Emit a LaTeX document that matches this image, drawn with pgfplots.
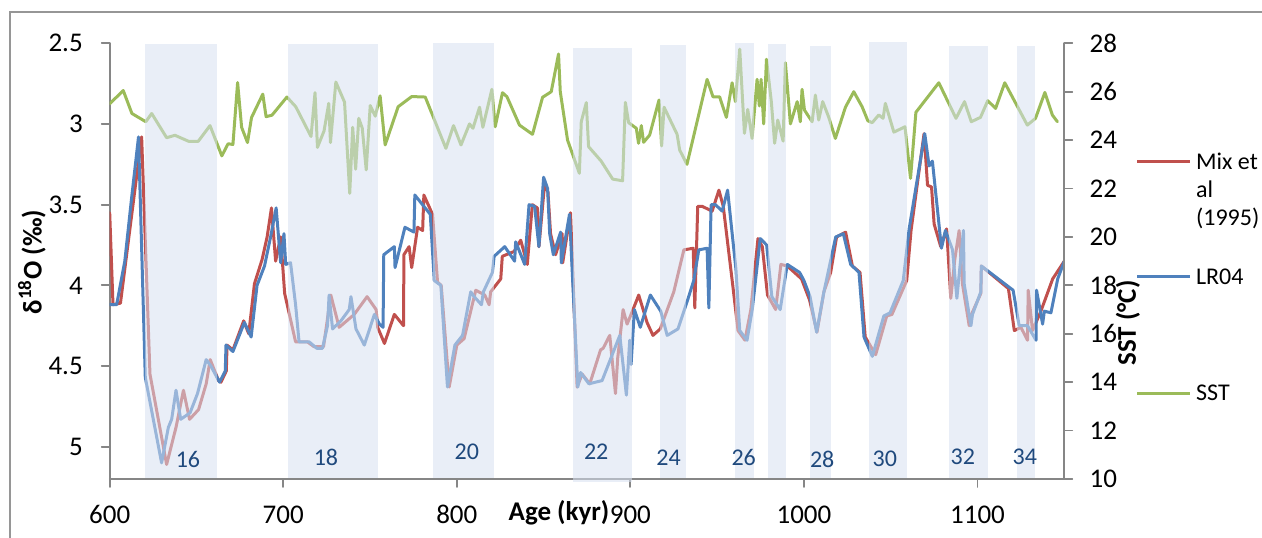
\documentclass[border=0pt]{standalone}
\usepackage{fontspec}
\setmainfont{Carlito}
\usepackage{pgfplots}
\pgfplotsset{compat=1.18}
\definecolor{mixred}{RGB}{192,80,77}
\definecolor{lrblue}{RGB}{79,129,189}
\definecolor{sstgreen}{RGB}{155,187,89}
\definecolor{bandc}{RGB}{215,224,240}
\definecolor{axgray}{RGB}{134,134,134}
\definecolor{framegray}{RGB}{150,150,150}
\definecolor{labblue}{RGB}{31,73,125}
\newcommand{\tickfont}{\fontsize{13.5}{16}\selectfont}
\newcommand{\legfont}{\fontsize{12}{14.5}\selectfont}
\begin{document}
\legfont
\begin{tikzpicture}[font=\legfont]
\path[use as bounding box] (-54.85pt,-29pt) rectangle (576.15pt,239.5pt);
\draw[framegray, line width=0.7pt] (-49.85pt,233.5pt) rectangle (590pt,-40pt);
\pgfplotsset{base/.style={scale only axis, width=477.3pt, height=217.85pt,
  at={(0pt,0pt)}, anchor=south west, xmin=600, xmax=1150,
  axis line style={axgray, line width=0.9pt}, tick style={axgray, line width=0.9pt},
  major tick length=4pt, tick align=outside,
  /pgf/number format/assume math mode=true,
  every tick label/.append style={font=\tickfont}}}
% delta18O axis
\begin{axis}[base, ymin=2.5, ymax=5.2, y dir=reverse,
  axis x line*=bottom, axis y line*=left, xtick pos=bottom, ytick pos=left,
  xtick={600,700,...,1100}, ytick={2.5,3,3.5,4,4.5,5},
  x tick label style={/pgf/number format/1000 sep={}, anchor=base, inner sep=0pt, yshift=-18pt},
  y tick label style={/pgf/number format/fixed, anchor=east, inner sep=0pt, xshift=-9.3pt},
  xlabel={\tickfont\bfseries Age (kyr)},
  xlabel style={at={(axis description cs:0.4707,0)}, anchor=base, inner sep=0pt, yshift=-20.5pt},
  ylabel={\tickfont\bfseries δ\textsuperscript{18}O (‰)},
  ylabel style={at={(axis description cs:-0.0814,0.498)}, anchor=center, inner sep=0pt},
  line join=round, line cap=round]
\addplot[mixred, line width=1.5pt] coordinates {
(600,3.55) (601.9,4.12) (606.2,4.11) (618.4,3.08) (623.2,4.55) (632.8,5.11) (638.2,4.88)
(642.5,4.65) (646.0,4.83) (651.2,4.77) (655.6,4.61) (657.9,4.46) (662.7,4.59) (664.1,4.60)
(667.2,4.53) (667.6,4.37) (671.0,4.40) (677.2,4.22) (680.1,4.30) (683.4,3.99) (687.8,3.84)
(690.7,3.70) (693.2,3.52) (695.6,3.85) (698.5,3.70) (700.8,4.05) (707.1,4.35) (713.9,4.35)
(717.7,4.38) (723.2,4.38) (727.4,4.06) (732.2,4.26) (740.9,4.18) (748.3,4.07) (753.5,4.15)
(754.4,4.26) (758.3,4.36) (764.0,4.18) (769.3,4.25) (769.5,3.81) (772.5,3.76) (774.0,3.89)
(777.4,3.64) (780.3,3.66) (781.0,3.44) (786.0,3.56) (788.9,3.98) (791.0,4.00) (795.6,4.63)
(800.0,4.37) (804.2,4.33) (810.9,4.03) (816.1,4.06) (818.6,4.12) (819.5,4.04) (825.3,3.96)
(826.2,3.82) (833.0,3.79) (836.8,3.72) (840.6,3.87) (843.5,3.50) (846.4,3.52) (847.3,3.76)
(850.5,3.38) (852.5,3.42) (854.0,3.68) (856.9,3.81) (860.7,3.68) (861.0,3.86) (865.5,3.55)
(869.3,4.63) (872.2,4.55) (876.6,4.61) (882.8,4.40) (884.3,4.39) (888.1,4.31) (891.4,4.67)
(892.7,4.45) (895.8,4.15) (898.1,4.24) (900.4,4.18) (904.8,4.06) (909.6,4.23) (913.0,4.31)
(917.2,4.27) (925.0,4.04) (930.8,3.78) (936.2,3.77) (937.1,4.14) (938.8,3.51) (941.3,3.51)
(947.1,3.54) (951.0,3.41) (953.5,3.51) (959.2,4.02) (962.0,4.28) (966.0,4.34) (969.4,4.15)
(973.5,3.71) (976.0,3.76) (979.0,4.06) (983.7,4.15) (986.7,3.87) (990.4,3.88) (998.6,3.96)
(1003.2,4.09) (1007.5,4.29) (1011.5,4.04) (1015.4,3.92) (1018.8,3.70) (1024.0,3.67)
(1027.9,3.88) (1032.3,3.92) (1035.3,4.32) (1041.3,4.43) (1047.7,4.19) (1050.7,4.18)
(1059.2,3.97) (1061.7,3.66) (1069.2,3.06) (1071.2,3.38) (1073.5,3.39) (1075.0,3.62)
(1078.8,3.76) (1082.2,3.65) (1084.6,4.08) (1086.9,3.84) (1089.4,3.66) (1091.3,3.99)
(1095.2,4.25) (1096.5,4.18) (1101.9,4.05) (1102.2,3.88) (1117.8,4.02) (1121.2,4.28)
(1125.0,4.26) (1128.8,4.34) (1129.2,4.03) (1131.7,4.28) (1136.5,4.16) (1143.3,3.96) (1150,3.85)};
\addplot[lrblue, line width=1.5pt] coordinates {
(600,4.12) (604.0,4.12) (608.7,3.85) (612.5,3.47) (616.6,3.08) (620.5,4.57) (629.9,5.10)
(633.8,4.88) (635.7,4.83) (638.2,4.65) (640.9,4.83) (646.3,4.79) (650.6,4.67) (655.6,4.46)
(658.3,4.50) (663.3,4.60) (666.6,4.53) (667.0,4.37) (671.0,4.41) (677.6,4.23) (681.5,4.32)
(684.9,4.00) (689.2,3.88) (692.7,3.70) (695.9,3.52) (698.5,3.86) (700.4,3.68) (701.4,3.87)
(704.2,3.86) (707.1,4.12) (709.1,4.35) (714.9,4.35) (719.3,4.39) (722.6,4.39) (725.5,4.25)
(726.4,4.06) (728.4,4.27) (733.2,4.22) (738.0,4.15) (739.0,4.07) (741.9,4.27) (746.7,4.37)
(752.5,4.18) (755.4,4.24) (757.5,4.26) (757.9,3.81) (764.0,3.76) (764.4,3.89) (770.1,3.64)
(775.3,3.67) (775.8,3.44) (784.7,3.56) (787.0,3.97) (790.8,4.00) (794.6,4.63) (798.9,4.37)
(803.3,4.31) (808.0,4.04) (810.0,4.07) (814.2,4.12) (815.3,4.04) (820.5,3.92) (821.5,3.82)
(827.6,3.76) (833.3,3.85) (833.9,3.73) (839.1,3.87) (841.6,3.50) (844.8,3.51) (847.3,3.76)
(850.0,3.33) (852.3,3.40) (853.5,3.68) (855.6,3.81) (859.8,3.67) (860.2,3.86) (864.9,3.56)
(869.7,4.63) (871.3,4.54) (876.1,4.61) (883.7,4.59) (893.9,4.31) (897.7,4.68) (899.6,4.34)
(900.4,4.49) (902.3,4.15) (905.7,4.26) (911.5,4.06) (917.5,4.16) (921.2,4.31) (927.4,4.27)
(932.7,4.10) (936.5,3.97) (939.4,3.78) (944.2,3.77) (945.2,4.14) (946.5,3.50) (949.0,3.50)
(952.9,3.54) (956.0,3.41) (960.8,3.90) (963.0,4.28) (967.2,4.34) (970.2,4.15) (974.8,3.71)
(978.5,3.75) (981.5,4.07) (986.3,4.15) (990.4,3.87) (997.5,3.92) (1000,3.97) (1003.5,4.07)
(1007.3,4.29) (1011.5,4.04) (1018.3,3.70) (1022.7,3.68) (1026.9,3.87) (1031.7,3.92)
(1034.6,4.32) (1039.4,4.44) (1046.0,4.19) (1049.6,4.17) (1057.2,3.97) (1060.6,3.65)
(1069.6,3.06) (1072.1,3.26) (1074.0,3.23) (1077.3,3.57) (1079.2,3.77) (1081.5,3.66)
(1085.6,3.78) (1088.1,4.08) (1091.9,3.66) (1092.3,3.99) (1096.2,4.25) (1097.1,4.18)
(1101.9,4.04) (1102.2,3.88) (1120.5,4.03) (1124.0,4.25) (1128.8,4.25) (1133.7,4.34)
(1134.0,4.03) (1137.5,4.24) (1138.5,4.16) (1142.3,4.17) (1146.2,3.96) (1150,3.85)};
\end{axis}
% SST axis
\begin{axis}[base, ymin=10, ymax=28, axis x line=none, axis y line*=right, ytick pos=right,
  ytick={10,12,...,28},
  y tick label style={anchor=west, inner sep=0pt, xshift=8.5pt},
  ylabel={\tickfont\bfseries SST (°C)},
  ylabel style={at={(axis description cs:1.0667,0.358)}, anchor=center, inner sep=0pt},
  line join=round, line cap=round]
\addplot[sstgreen, line width=1.5pt] coordinates {
(600,25.5) (607.8,26.05) (612.8,25.1) (620.8,24.76) (624.2,25.1) (632.8,24.1) (637.6,24.2)
(645.5,23.95) (651.0,23.95) (657.8,24.6) (664.6,23.35) (668.2,23.85) (671.0,23.82)
(673.7,26.38) (676.0,24.53) (679.4,23.9) (681.7,24.93) (688.2,25.9) (690.1,24.97)
(693.5,25.03) (702.1,25.78) (707.2,25.38) (716.0,24.15) (718.3,25.96) (719.7,23.7)
(723.5,24.38) (726.2,25.52) (727.2,23.9) (730.3,26.4) (735.3,25.57) (738.3,21.8)
(740.0,24.53) (741.7,22.8) (743.5,24.9) (745.5,24.5) (747.8,22.77) (750.1,25.43)
(753.0,24.99) (755.8,25.83) (758.7,23.8) (766.2,25.38) (774.0,25.8) (781.8,25.78)
(793.7,23.66) (798.1,24.6) (802.4,23.8) (807.3,24.67) (809.3,24.49) (813.1,25.36)
(815.0,24.53) (820.2,26.1) (822.1,24.55) (826.3,25.96) (828.9,25.79) (836.1,24.62)
(843.6,24.24) (849.4,25.77) (854.4,26.0) (858.6,27.56) (859.6,26.0) (863.8,24.0)
(870.6,22.63) (871.7,24.76) (874.6,25.55) (875.9,23.73) (883.1,23.14) (889.8,22.39)
(895.5,22.32) (897.1,25.56) (899.0,24.72) (903.4,24.49) (904.7,23.87) (906.3,24.6)
(907.6,23.91) (911.1,24.21) (916.5,25.66) (918.0,23.76) (919.4,25.36) (926.9,24.24)
(928.4,23.59) (932.6,23.0) (944.2,26.51) (947.6,25.79) (951.4,25.79) (955.3,24.94)
(958.6,26.37) (960.5,25.59) (963.0,27.76) (965.7,24.28) (967.6,25.27) (970.1,24.07)
(973.0,26.51) (974.3,25.41) (975.3,26.51) (976.8,24.67) (978.4,27.34) (981.2,25.59)
(983.1,23.87) (984.9,24.83) (988.0,23.96) (989.3,27.2) (992.2,24.67) (996.1,25.59)
(997.9,24.76) (998.9,26.1) (1000.3,25.24) (1004.7,24.76) (1006.6,25.86) (1008.5,24.83)
(1010.8,25.59) (1014.3,24.94) (1018.1,24.07) (1023.9,25.36) (1028.7,26.0) (1033.5,25.38)
(1036.8,24.8) (1039.3,24.72) (1043.1,25.04) (1045.6,24.9) (1046.9,25.52) (1051.8,24.33)
(1058.2,24.55) (1061.4,22.42) (1064.5,25.15) (1077.7,26.37) (1087.6,24.9) (1092.5,25.59)
(1096.4,24.76) (1101.7,24.94) (1105.9,25.63) (1110.4,25.31) (1115.7,26.37) (1128.7,24.62)
(1133.4,24.9) (1138.8,25.97) (1143.1,25.04) (1146.0,24.76)};
\end{axis}
% overlay: glacial bands and labels
\begin{axis}[base, ymin=2.5, ymax=5.2, y dir=reverse, hide axis, clip=false]
\pgfplotsset{band/.style={draw=none, fill=bandc, fill opacity=0.55, forget plot}}
\addplot[band] coordinates {(620.4,5.195) (620.4,2.506) (661.9,2.506) (661.9,5.195)} -- cycle;
\addplot[band] coordinates {(702.8,5.195) (702.8,2.504) (754.5,2.504) (754.5,5.195)} -- cycle;
\addplot[band] coordinates {(786.4,5.195) (786.4,2.500) (821.4,2.500) (821.4,5.195)} -- cycle;
\addplot[band] coordinates {(867.1,5.219) (867.1,2.527) (900.9,2.527) (900.9,5.219)} -- cycle;
\addplot[band] coordinates {(916.8,5.195) (916.8,2.509) (932.1,2.509) (932.1,5.195)} -- cycle;
\addplot[band] coordinates {(960.5,5.195) (960.5,2.496) (971.3,2.496) (971.3,5.195)} -- cycle;
\addplot[band] coordinates {(979.0,5.195) (979.0,2.502) (989.9,2.502) (989.9,5.195)} -- cycle;
\addplot[band] coordinates {(1003.7,5.195) (1003.7,2.515) (1015.8,2.515) (1015.8,5.195)} -- cycle;
\addplot[band] coordinates {(1037.2,5.195) (1037.2,2.492) (1059.5,2.492) (1059.5,5.195)} -- cycle;
\addplot[band] coordinates {(1083.8,5.195) (1083.8,2.515) (1106.2,2.515) (1106.2,5.195)} -- cycle;
\addplot[band] coordinates {(1122.5,5.195) (1122.5,2.515) (1133.3,2.515) (1133.3,5.195)} -- cycle;
\node[labblue] at (axis cs:645.1,5.076) {16};
\node[labblue] at (axis cs:724.6,5.063) {18};
\node[labblue] at (axis cs:805.8,5.030) {20};
\node[labblue] at (axis cs:880.3,5.030) {22};
\node[labblue] at (axis cs:922.0,5.065) {24};
\node[labblue] at (axis cs:965.3,5.065) {26};
\node[labblue] at (axis cs:1010.5,5.076) {28};
\node[labblue] at (axis cs:1046.6,5.076) {30};
\node[labblue] at (axis cs:1091.5,5.065) {32};
\node[labblue] at (axis cs:1127.3,5.065) {34};
\end{axis}
% legend
\draw[mixred, line width=1.6pt] (513.65pt,158.85pt) -- (540.15pt,158.85pt);
\node[anchor=base west, inner sep=0pt] at (543pt,154.9pt) {Mix et};
\node[anchor=base west, inner sep=0pt] at (543pt,140.75pt) {al};
\node[anchor=base west, inner sep=0pt] at (543pt,126.6pt) {(1995)};
\draw[lrblue, line width=1.6pt] (513.65pt,101.15pt) -- (540.15pt,101.15pt);
\node[anchor=base west, inner sep=0pt] at (543pt,97.25pt) {LR04};
\draw[sstgreen, line width=1.6pt] (513.65pt,42.85pt) -- (540.15pt,42.85pt);
\node[anchor=base west, inner sep=0pt] at (543pt,39.1pt) {SST};
\end{tikzpicture}
\end{document}
